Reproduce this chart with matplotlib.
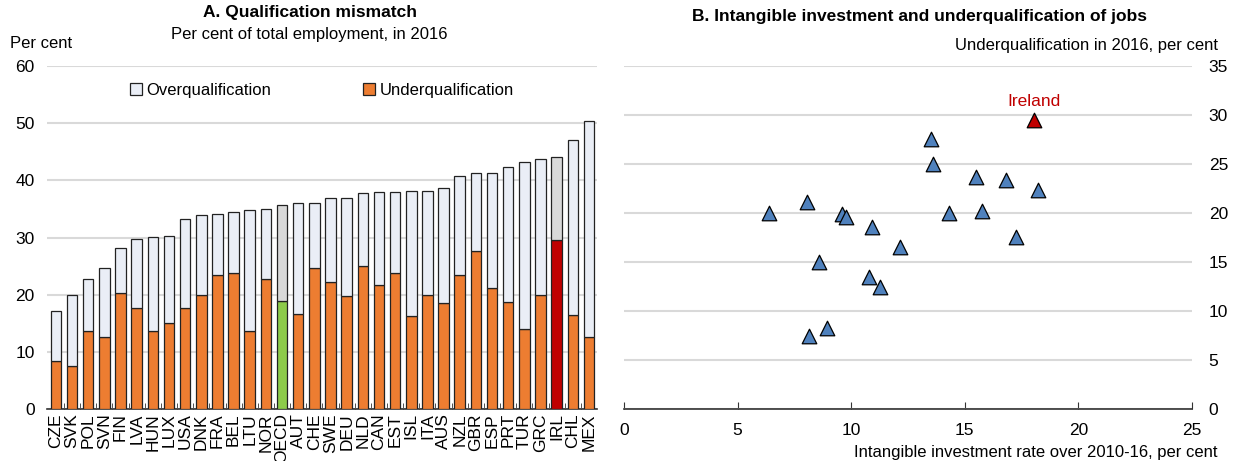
import numpy as np
import matplotlib
matplotlib.use("Agg")
import matplotlib.pyplot as plt

plt.rcParams['font.family'] = ['Liberation Sans Narrow', 'Liberation Sans', 'DejaVu Sans']

# Panel A data
countries = ['CZE', 'SVK', 'POL', 'SVN', 'FIN', 'LVA', 'HUN', 'LUX', 'USA', 'DNK', 'FRA', 'BEL',
             'LTU', 'NOR', 'OECD', 'AUT', 'CHE', 'SWE', 'DEU', 'NLD', 'CAN', 'EST', 'ISL', 'ITA',
             'AUS', 'NZL', 'GBR', 'ESP', 'PRT', 'TUR', 'GRC', 'IRL', 'CHL', 'MEX']
under = [8.4, 7.6, 13.6, 12.6, 20.3, 17.6, 13.6, 15.1, 17.7, 19.9, 23.5, 23.8,
         13.6, 22.7, 18.9, 16.6, 24.7, 22.3, 19.7, 25.1, 21.7, 23.8, 16.3, 20.0,
         18.5, 23.5, 27.7, 21.2, 18.7, 14.0, 20.0, 29.5, 16.5, 12.6]
over = [8.7, 12.3, 9.2, 12.0, 7.8, 12.1, 16.5, 15.1, 15.6, 14.1, 10.6, 10.6,
        21.2, 12.3, 16.8, 19.5, 11.3, 14.6, 17.2, 12.6, 16.2, 14.1, 21.8, 18.2,
        20.2, 17.2, 13.5, 20.0, 23.6, 29.2, 23.7, 14.6, 30.5, 37.7]

# Panel B data
intang = [13.5, 13.6, 15.5, 16.8, 18.2, 6.4, 8.05, 9.6, 9.75, 10.9,
          14.3, 15.75, 17.25, 12.15, 8.6, 10.8, 11.25, 8.15, 8.95]
underq = [27.6, 25.0, 23.7, 23.4, 22.3, 20.0, 21.1, 19.9, 19.6, 18.6,
          20.0, 20.2, 17.6, 16.5, 15.0, 13.5, 12.5, 7.5, 8.3]
irl_x = 18.05
irl_y = 29.5

orange = '#ED7D31'
light = '#EAEEF6'
grey = '#D9D9D9'
grid_c = '#D9D9D9'

fig = plt.figure(figsize=(12.34, 4.61), dpi=100)

# ---- Panel A
ax1 = fig.add_axes([0.0381, 0.1128, 0.4457, 0.744])
x = np.arange(len(countries))
under_cols = []
over_cols = []
for c in countries:
    if c == 'OECD':
        under_cols.append('#8DCB4A')
        over_cols.append(grey)
    elif c == 'IRL':
        under_cols.append('#C00000')
        over_cols.append(grey)
    else:
        under_cols.append(orange)
        over_cols.append(light)

ax1.bar(x, under, width=0.65, color=under_cols, edgecolor='#222222', linewidth=0.9, zorder=3,
        label='Underqualification')
ax1.bar(x, over, bottom=under, width=0.65, color=over_cols, edgecolor='#222222', linewidth=0.9,
        zorder=3, label='Overqualification')

ax1.set_ylim(0, 60)
ax1.set_xlim(-0.55, len(countries) - 0.5)
ax1.set_yticks(range(0, 61, 10))
ax1.yaxis.grid(True, color=grid_c, linewidth=1.5)
ax1.set_axisbelow(True)
for s in ['top', 'right', 'left']:
    ax1.spines[s].set_visible(False)
ax1.spines['bottom'].set_color('#333333')
ax1.spines['bottom'].set_linewidth(1.2)
ax1.set_xticks(x)
ax1.set_xticklabels(countries, rotation=90, fontsize=12.5)
ax1.tick_params(axis='x', length=0, pad=3)
ax1.set_xticks(x[:-1] + 0.5, minor=True)
ax1.tick_params(axis='x', which='minor', direction='in', length=4, color='#333333')
ax1.tick_params(axis='y', length=0, labelsize=12.5, pad=9)

h, l = ax1.get_legend_handles_labels()
ax1.legend(h[::-1], l[::-1], loc='center', bbox_to_anchor=(0.5, 0.93), ncol=2, frameon=False,
           fontsize=12, handlelength=0.7, handleheight=0.7, handletextpad=0.3, columnspacing=5.5)

fig.text(0.251, 0.972, 'A. Qualification mismatch', ha='center', va='center',
         fontsize=12.5, fontweight='bold')
fig.text(0.251, 0.926, 'Per cent of total employment, in 2016', ha='center', va='center', fontsize=12)
fig.text(0.008, 0.905, 'Per cent', ha='left', va='center', fontsize=12)

# ---- Panel B
ax2 = fig.add_axes([0.5057, 0.1128, 0.4603, 0.744])
ax2.scatter(intang, underq, marker='^', s=110, color='#4F81BD', edgecolor='black',
            linewidth=0.9, zorder=3)
ax2.scatter([irl_x], [irl_y], marker='^', s=110, color='#C00000', edgecolor='black',
            linewidth=0.9, zorder=3)
ax2.text(irl_x, irl_y + 1.1, 'Ireland', color='#C00000', ha='center', va='bottom', fontsize=12.5)

ax2.set_xlim(0, 25)
ax2.set_ylim(0, 35)
ax2.set_xticks(range(0, 26, 5))
ax2.set_yticks(range(0, 36, 5))
ax2.yaxis.grid(True, color=grid_c, linewidth=1.5)
ax2.set_axisbelow(True)
for s in ['top', 'right', 'left']:
    ax2.spines[s].set_visible(False)
ax2.spines['bottom'].set_color('#333333')
ax2.spines['bottom'].set_linewidth(1.2)
ax2.yaxis.tick_right()
ax2.tick_params(axis='y', length=0, labelsize=12.5, pad=12)
ax2.tick_params(axis='x', direction='in', length=5, color='#333333', labelsize=12.5, pad=10)

fig.text(0.745, 0.965, 'B. Intangible investment and underqualification of jobs', ha='center',
         va='center', fontsize=12.5, fontweight='bold')
fig.text(0.987, 0.902, 'Underqualification in 2016, per cent', ha='right', va='center', fontsize=12)
fig.text(0.987, 0.018, 'Intangible investment rate over 2010-16, per cent', ha='right', va='center',
         fontsize=12)

fig.savefig('out.png', dpi=100)
